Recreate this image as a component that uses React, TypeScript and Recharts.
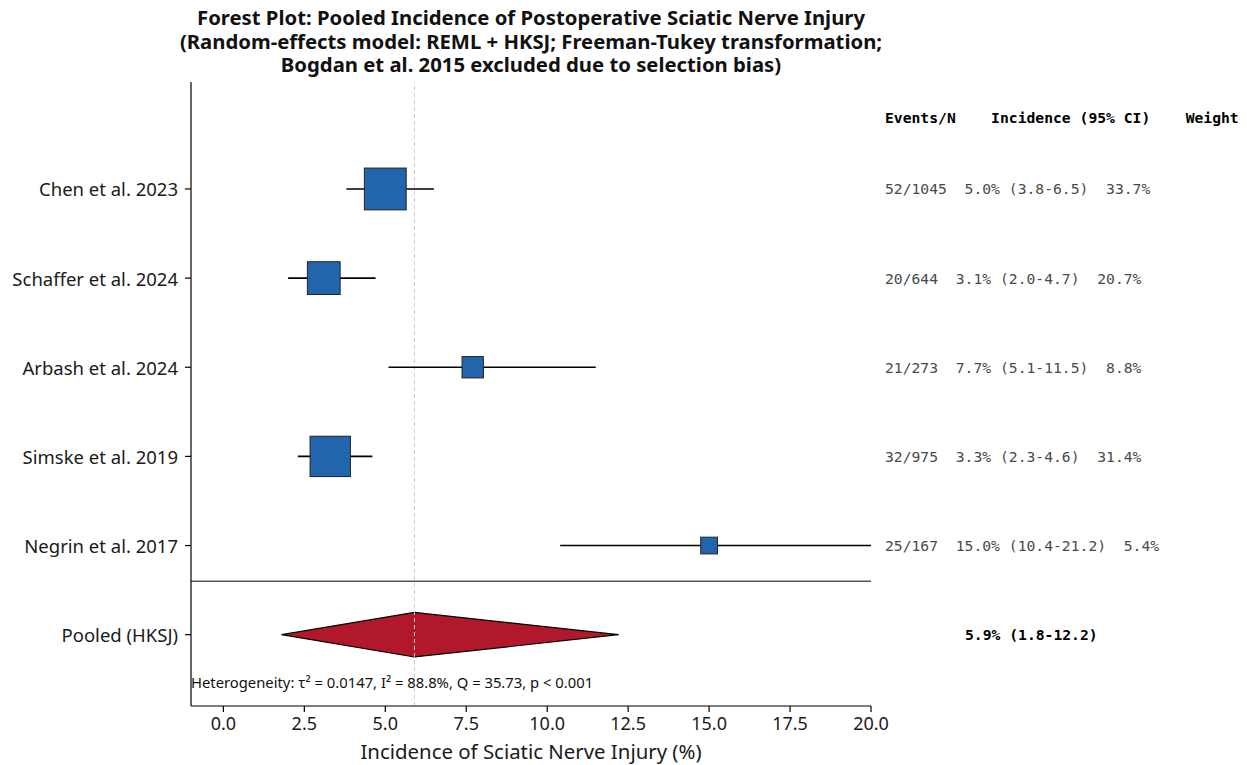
import { ComposedChart, XAxis, YAxis, Scatter, ErrorBar, Area, ReferenceLine } from "recharts";

const studyNames = ["Chen et al. 2023", "Schaffer et al. 2024", "Arbash et al. 2024", "Simske et al. 2019", "Negrin et al. 2017"];
const events = [52, 20, 21, 32, 25];
const totals = [1045, 644, 273, 975, 167];
const estimates = [5.0, 3.1, 7.7, 3.3, 15.0];
const ciLow = [3.8, 2.0, 5.1, 2.3, 10.4];
const ciHigh = [6.5, 4.7, 11.5, 4.6, 21.2];
const weights = [33.7, 20.7, 8.8, 31.4, 5.4];

const pooledName = "Pooled (HKSJ)";
const pooledEst = 5.9;
const pooledCI = [1.8, 12.2];

const xTicks = [0, 2.5, 5, 7.5, 10, 12.5, 15, 17.5, 20];
const titleLines = [
  "Forest Plot: Pooled Incidence of Postoperative Sciatic Nerve Injury",
  "(Random-effects model: REML + HKSJ; Freeman-Tukey transformation;",
  "Bogdan et al. 2015 excluded due to selection bias)",
];
const headerText = "Events/N    Incidence (95% CI)    Weight";
const hetText = "Heterogeneity: τ² = 0.0147, I² = 88.8%, Q = 35.73, p < 0.001";

const X_MIN = -1;
const X_MAX = 20;
const HEADER_Y = 5.8;
const HET_Y = -0.53;
const DIAMOND_HALF = 0.25;

// CI whiskers are cut at the axis limit, like the original clipped plot
const rows = studyNames.map((name, i) => ({
  name,
  x: estimates[i],
  y: studyNames.length - i,
  err: [estimates[i] - Math.max(ciLow[i], X_MIN), Math.min(ciHigh[i], X_MAX) - estimates[i]],
  w: weights[i],
  text: `${events[i]}/${totals[i]}  ${estimates[i].toFixed(1)}% (${ciLow[i].toFixed(1)}-${ciHigh[i].toFixed(1)})  ${weights[i].toFixed(1)}%`,
}));

const diamond = [
  { x: pooledCI[0], band: [0, 0] },
  { x: pooledEst, band: [-DIAMOND_HALF, DIAMOND_HALF] },
  { x: pooledCI[1], band: [0, 0] },
];

const labelFor = (v: number) => (v === 0 ? pooledName : rows.find((r) => r.y === v)?.name ?? "");

const mono = "'DejaVu Sans Mono', monospace";
const sans = "'Noto Sans', sans-serif";

function LeftTick({ x, y, payload }: any) {
  return (
    <text x={x} y={y} textAnchor="end" dominantBaseline="central" fontFamily={sans} fontSize={18.5} fill="#1a1a1a">
      {labelFor(payload.value)}
    </text>
  );
}

function RightTick({ x, y, payload }: any) {
  const v = payload.value;
  if (v === HEADER_Y) {
    return (
      <text x={x} y={y} dominantBaseline="central" fontFamily={mono} fontSize={14.7} fontWeight="bold" fill="#000" style={{ whiteSpace: "pre" }}>
        {headerText}
      </text>
    );
  }
  if (v === 0) {
    return (
      <text x={x + 80} y={y} dominantBaseline="central" fontFamily={mono} fontSize={14.7} fontWeight="bold" fill="#000" style={{ whiteSpace: "pre" }}>
        {`${pooledEst.toFixed(1)}% (${pooledCI[0].toFixed(1)}-${pooledCI[1].toFixed(1)})`}
      </text>
    );
  }
  const r = rows.find((d) => d.y === v);
  return (
    <text x={x} y={y} dominantBaseline="central" fontFamily={mono} fontSize={14.7} fill="#4a4a4a" style={{ whiteSpace: "pre" }}>
      {r ? r.text : ""}
    </text>
  );
}

function Square({ cx, cy, payload }: any) {
  const s = 7.2 * Math.sqrt(payload.w);
  return <rect x={cx - s / 2} y={cy - s / 2} width={s} height={s} fill="#2166ac" stroke="#222" strokeWidth={1} />;
}

function HetLabel({ cx, cy }: any) {
  return (
    <text x={cx} y={cy} dominantBaseline="central" fontFamily={sans} fontSize={14.8} fill="#111">
      {hetText}
    </text>
  );
}

export default function App() {
  return (
    <div style={{ position: "absolute", left: 0, top: 0, width: 1247, height: 765, background: "#fff" }}>
      <svg width={1247} height={80} style={{ position: "absolute", left: 0, top: 0 }}>
        {titleLines.map((t, i) => (
          <text key={i} x={531} y={17 + i * 23.5} textAnchor="middle" dominantBaseline="central"
            fontFamily={sans} fontWeight="bold" fontSize={20.3} fill="#111">
            {t}
          </text>
        ))}
      </svg>
      <ComposedChart width={1247} height={765} margin={{ top: 82, right: 0, bottom: 0, left: 0 }}>
        <XAxis
          type="number" dataKey="x" domain={[X_MIN, X_MAX]} ticks={xTicks} allowDataOverflow interval={0}
          tickFormatter={(v: number) => v.toFixed(1)} height={59}
          tick={{ fontSize: 18, fontFamily: sans, fill: "#1a1a1a" }}
          tickSize={6} tickMargin={5}
          stroke="#000" strokeWidth={1.2}
          label={{ value: "Incidence of Sciatic Nerve Injury (%)", position: "insideBottom", offset: 6, style: { fontSize: 20.4, fontFamily: sans, fill: "#1a1a1a" } }}
        />
        <YAxis
          type="number" dataKey="y" domain={[-0.8, 6.2]} ticks={[0, 1, 2, 3, 4, 5]} interval={0}
          width={191} tick={<LeftTick />} tickSize={6} tickMargin={7} stroke="#000" strokeWidth={1.2}
          allowDataOverflow
        />
        <YAxis
          yAxisId="right" orientation="right" type="number" domain={[-0.8, 6.2]}
          ticks={[0, 1, 2, 3, 4, 5, HEADER_Y]} interval={0} width={376}
          axisLine={false} tickLine={false} tickSize={0} tickMargin={14} tick={<RightTick />}
          allowDataOverflow
        />
        <ReferenceLine x={pooledEst} stroke="#c8c8c8" strokeDasharray="4 3" strokeWidth={1} />
        <ReferenceLine y={0.6} stroke="#000" strokeWidth={1} />
        <Area
          data={diamond} dataKey="band" type="linear" fill="#b2182b" fillOpacity={1}
          stroke="#000" strokeWidth={1.2} dot={false} activeDot={false} isAnimationActive={false}
        />
        <Scatter data={rows} shape={<Square />} isAnimationActive={false}>
          <ErrorBar dataKey="err" direction="x" width={0} stroke="#000" strokeWidth={1.6} isAnimationActive={false} />
        </Scatter>
        <Scatter data={[{ x: X_MIN, y: HET_Y }]} shape={<HetLabel />} isAnimationActive={false} />
      </ComposedChart>
    </div>
  );
}
